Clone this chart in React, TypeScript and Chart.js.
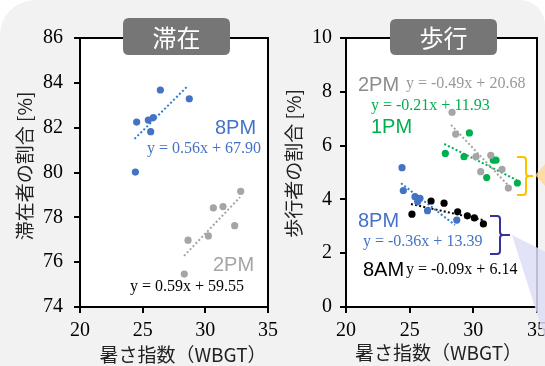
import React, { useEffect, useRef } from "react";
import { Chart, registerables } from "chart.js";
Chart.register(...registerables);

// ---- Data: 滞在 (stay) chart ----
const stay8pmX = [24.52, 25.45, 25.85, 25.64, 26.41, 28.72, 24.42];
const stay8pmY = [82.25, 82.34, 82.45, 81.82, 83.68, 83.29, 80.02];
const stay2pmX = [28.62, 30.24, 30.64, 31.41, 32.82, 32.34, 28.32];
const stay2pmY = [76.98, 77.17, 78.42, 78.48, 79.16, 77.63, 75.47];
const stay8pmTrendX = [24.35, 28.6];
const stay8pmTrendY = [81.5, 83.86];
const stay2pmTrendX = [28.3, 32.77];
const stay2pmTrendY = [76.28, 78.9];

// ---- Data: 歩行 (walk) chart ----
const walk2pmX = [28.33, 28.61, 30.21, 31.37, 30.58, 32.25, 32.75];
const walk2pmY = [7.24, 6.43, 5.59, 5.64, 5.03, 5.12, 4.42];
const walk1pmX = [27.8, 29.69, 29.27, 31.57, 31.78, 31.05, 33.46];
const walk1pmY = [5.71, 6.47, 5.59, 5.46, 5.46, 4.81, 4.61];
const walk8pmX = [24.4, 24.5, 25.42, 25.81, 25.63, 26.4, 28.7];
const walk8pmY = [5.18, 4.33, 4.1, 4.04, 3.91, 3.58, 3.23];
const walk8amX = [25.18, 26.68, 27.7, 28.77, 29.53, 30.08, 30.79];
const walk8amY = [3.45, 3.94, 3.86, 3.54, 3.39, 3.31, 3.09];
const walk2pmTrendX = [28.25, 32.7];
const walk2pmTrendY = [6.77, 4.54];
const walk1pmTrendX = [27.72, 33.41];
const walk1pmTrendY = [6.06, 4.72];
const walk8pmTrendX = [24.32, 28.55];
const walk8pmTrendY = [4.6, 3.05];
const walk8amTrendX = [25.1, 30.79];
const walk8amTrendY = [3.83, 3.23];

// ---- Axis ranges / labels ----
const xRange = [20, 35];
const xStep = 5;
const stayYRange = [74, 86];
const walkYRange = [0, 10];
const yStep = 2;
const xTitle = "暑さ指数（WBGT）";
const stayYTitle = "滞在者の割合 [%]";
const walkYTitle = "歩行者の割合 [%]";
const stayBadge = "滞在";
const walkBadge = "歩行";

const BLUE = "#4472C4";
const BLUE_LINE = "#2F80D0";
const GRAY = "#A5A5A5";
const GREEN = "#00B050";
const BLACK = "#000000";

const SERIF = '"Liberation Serif", "Times New Roman", serif';
const SANS = '"Liberation Sans", Arial, sans-serif';
const CJK = '"Noto Sans CJK JP", "Noto Sans", sans-serif';

const zip = (xs: number[], ys: number[]) => xs.map((x, i) => ({ x, y: ys[i] }));

const pts = (label: string, xs: number[], ys: number[], color: string) => ({
  label,
  data: zip(xs, ys),
  backgroundColor: color,
  borderColor: color,
  borderWidth: 0,
  pointRadius: 3.6,
  showLine: false,
});

const trend = (label: string, xs: number[], ys: number[], color: string) => ({
  label,
  data: zip(xs, ys),
  borderColor: color,
  backgroundColor: color,
  borderWidth: 2,
  borderDash: [2, 2.2],
  pointRadius: 0,
  showLine: true,
  fill: false,
});

function makeScales(yRange: number[], yWidth: number, yPad: number) {
  const tickFont = { family: SERIF, size: 20 };
  return {
    x: {
      type: "linear",
      min: xRange[0],
      max: xRange[1],
      ticks: { stepSize: xStep, color: "#000", font: tickFont, padding: 6 },
      grid: { display: true, drawOnChartArea: false, drawTicks: true, tickLength: 6, color: "#000", lineWidth: 2 },
      border: { display: true, color: "#000", width: 2 },
      afterFit: (s: any) => { s.height = 59; },
    },
    y: {
      type: "linear",
      min: yRange[0],
      max: yRange[1],
      ticks: { stepSize: yStep, color: "#000", font: tickFont, padding: yPad },
      grid: { display: true, drawOnChartArea: false, drawTicks: true, tickLength: 6, color: "#000", lineWidth: 2 },
      border: { display: true, color: "#000", width: 2 },
      afterFit: (s: any) => { s.width = yWidth; },
    },
  };
}

function roundRect(ctx: CanvasRenderingContext2D, x: number, y: number, w: number, h: number, r: number) {
  ctx.beginPath();
  ctx.moveTo(x + r, y);
  ctx.lineTo(x + w - r, y);
  ctx.quadraticCurveTo(x + w, y, x + w, y + r);
  ctx.lineTo(x + w, y + h - r);
  ctx.quadraticCurveTo(x + w, y + h, x + w - r, y + h);
  ctx.lineTo(x + r, y + h);
  ctx.quadraticCurveTo(x, y + h, x, y + h - r);
  ctx.lineTo(x, y + r);
  ctx.quadraticCurveTo(x, y, x + r, y);
  ctx.closePath();
}

function text(ctx: CanvasRenderingContext2D, s: string, x: number, y: number, font: string, color: string, align: CanvasTextAlign = "left") {
  ctx.font = font;
  ctx.fillStyle = color;
  ctx.textAlign = align;
  ctx.textBaseline = "middle";
  ctx.fillText(s, x, y);
}

function frameAndTitles(ctx: CanvasRenderingContext2D, chart: any, yTitle: string, yTitleX: number, yTitleY: number, xTitleX: number, xTitleY: number) {
  const a = chart.chartArea;
  ctx.strokeStyle = "#000";
  ctx.lineWidth = 2;
  ctx.strokeRect(a.left, a.top, a.right - a.left, a.bottom - a.top);
  text(ctx, xTitle, xTitleX, xTitleY, `19px ${CJK}`, "#222", "center");
  ctx.save();
  ctx.translate(yTitleX, yTitleY);
  ctx.rotate(-Math.PI / 2);
  text(ctx, yTitle, 0, 0, `19px ${CJK}`, "#222", "center");
  ctx.restore();
}

function badge(ctx: CanvasRenderingContext2D, s: string, x: number, y: number, w: number, h: number) {
  ctx.fillStyle = "#767676";
  roundRect(ctx, x, y, w, h, 6);
  ctx.fill();
  text(ctx, s, x + w / 2, y + h / 2 + 1, `24px ${CJK}`, "#fff", "center");
}

function bracket(ctx: CanvasRenderingContext2D, x0: number, x1: number, top: number, mid: number, bottom: number, tip: number, color: string) {
  ctx.strokeStyle = color;
  ctx.lineWidth = 2;
  ctx.beginPath();
  ctx.moveTo(x0, top);
  ctx.lineTo(x1 - 3, top);
  ctx.quadraticCurveTo(x1, top, x1, top + 3);
  ctx.lineTo(x1, mid - 3);
  ctx.quadraticCurveTo(x1, mid, x1 + 3, mid);
  ctx.lineTo(tip, mid);
  ctx.moveTo(x1 + 3, mid);
  ctx.quadraticCurveTo(x1, mid, x1, mid + 3);
  ctx.lineTo(x1, bottom - 3);
  ctx.quadraticCurveTo(x1, bottom, x1 - 3, bottom);
  ctx.lineTo(x0, bottom);
  ctx.stroke();
}

const whiteArea = {
  id: "whiteArea",
  beforeDraw(chart: any) {
    const a = chart.chartArea;
    const ctx = chart.ctx as CanvasRenderingContext2D;
    ctx.save();
    ctx.fillStyle = "#ffffff";
    ctx.fillRect(a.left, a.top, a.right - a.left, a.bottom - a.top);
    ctx.restore();
  },
};

const stayPlugin = {
  id: "stayAnnot",
  afterDraw(chart: any) {
    const ctx = chart.ctx as CanvasRenderingContext2D;
    ctx.save();
    frameAndTitles(ctx, chart, stayYTitle, 25, 166, 183, 355);
    badge(ctx, stayBadge, 123, 18, 107, 37);
    text(ctx, "8PM", 215, 128.5, `20px ${SANS}`, BLUE);
    text(ctx, "y = 0.56x + 67.90", 147, 149, `16px ${SERIF}`, BLUE);
    text(ctx, "2PM", 213, 265.5, `20px ${SANS}`, GRAY);
    text(ctx, "y = 0.59x + 59.55", 130, 287, `16px ${SERIF}`, BLACK);
    ctx.restore();
  },
};

const walkPlugin = {
  id: "walkAnnot",
  afterDraw(chart: any) {
    const ctx = chart.ctx as CanvasRenderingContext2D;
    ctx.save();
    frameAndTitles(ctx, chart, walkYTitle, 294, 163.5, 438.5, 353);
    badge(ctx, walkBadge, 390, 19, 107, 36);
    text(ctx, "2PM", 358, 85, `20px ${SANS}`, "#8C8C8C");
    text(ctx, "y = -0.49x + 20.68", 406, 83.5, `16px ${SERIF}`, "#999999");
    text(ctx, "y = -0.21x + 11.93", 371, 106, `16px ${SERIF}`, GREEN);
    text(ctx, "1PM", 371, 127, `20px ${SANS}`, GREEN);
    text(ctx, "8PM", 358, 221.5, `20px ${SANS}`, BLUE);
    text(ctx, "y = -0.36x + 13.39", 363, 241.5, `16px ${SERIF}`, BLUE);
    text(ctx, "8AM", 363, 270.5, `20px ${SANS}`, BLACK);
    text(ctx, "y = -0.09x + 6.14", 406, 270, `16px ${SERIF}`, BLACK);
    bracket(ctx, 517, 526, 157, 176, 195, 533, "#FFC000");
    bracket(ctx, 490, 500, 216, 235, 254, 510, "#333399");
    // callout wedges
    ctx.fillStyle = "rgba(255, 214, 140, 0.75)";
    ctx.beginPath();
    ctx.moveTo(535, 175);
    ctx.lineTo(546, 163);
    ctx.lineTo(546, 187);
    ctx.closePath();
    ctx.fill();
    ctx.fillStyle = "rgba(222, 222, 246, 0.85)";
    ctx.beginPath();
    ctx.moveTo(512, 235);
    ctx.lineTo(546, 252);
    ctx.lineTo(546, 342);
    ctx.closePath();
    ctx.fill();
    ctx.restore();
  },
};

export default function App() {
  const leftRef = useRef<HTMLCanvasElement>(null);
  const rightRef = useRef<HTMLCanvasElement>(null);

  useEffect(() => {
    const common = {
      responsive: false,
      animation: false,
      plugins: { legend: { display: false }, tooltip: { enabled: false } },
      events: [],
    };
    const c1 = new Chart(leftRef.current!, {
      type: "scatter",
      data: {
        datasets: [
          pts("8PM", stay8pmX, stay8pmY, BLUE),
          pts("2PM", stay2pmX, stay2pmY, GRAY),
          trend("8PM trend", stay8pmTrendX, stay8pmTrendY, BLUE_LINE),
          trend("2PM trend", stay2pmTrendX, stay2pmTrendY, GRAY),
        ] as any,
      },
      options: {
        ...common,
        layout: { padding: { left: 0, top: 38, right: 560 - 268, bottom: 0 } },
        scales: makeScales(stayYRange, 80, 11) as any,
      } as any,
      plugins: [whiteArea, stayPlugin],
    });
    const c2 = new Chart(rightRef.current!, {
      type: "scatter",
      data: {
        datasets: [
          pts("2PM", walk2pmX, walk2pmY, GRAY),
          pts("1PM", walk1pmX, walk1pmY, GREEN),
          pts("8PM", walk8pmX, walk8pmY, BLUE),
          pts("8AM", walk8amX, walk8amY, BLACK),
          trend("2PM trend", walk2pmTrendX, walk2pmTrendY, GRAY),
          trend("1PM trend", walk1pmTrendX, walk1pmTrendY, GREEN),
          trend("8PM trend", walk8pmTrendX, walk8pmTrendY, BLUE_LINE),
          trend("8AM trend", walk8amTrendX, walk8amTrendY, BLACK),
        ] as any,
      },
      options: {
        ...common,
        layout: { padding: { left: 0, top: 38, right: 560 - 537, bottom: 0 } },
        scales: makeScales(walkYRange, 346, 8) as any,
      } as any,
      plugins: [whiteArea, walkPlugin],
    });
    return () => {
      c1.destroy();
      c2.destroy();
    };
  }, []);

  return (
    <div style={{ position: "fixed", left: 0, top: 0, width: 545, height: 366, overflow: "hidden", background: "#fff" }}>
      <div style={{ position: "absolute", left: 0, top: 0, width: 545, height: 366, background: "#f2f2f2", borderRadius: "35px 25px 0 0" }} />
      <canvas ref={leftRef} width={560} height={366} style={{ position: "absolute", left: 0, top: 0 }} />
      <canvas ref={rightRef} width={560} height={366} style={{ position: "absolute", left: 0, top: 0 }} />
    </div>
  );
}
